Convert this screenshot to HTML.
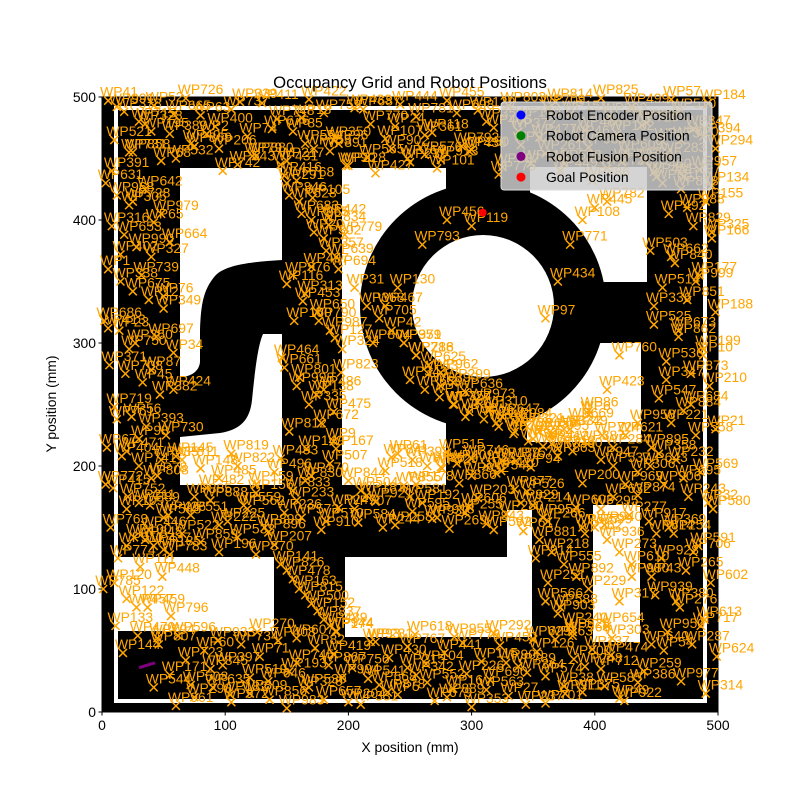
<!DOCTYPE html>
<html><head><meta charset="utf-8">
<style>
html,body{margin:0;padding:0;background:#fff;}
svg{display:block;font-family:"Liberation Sans","DejaVu Sans",sans-serif;}
</style></head>
<body>
<svg id="chart" width="800" height="800" viewBox="0 0 800 800" xmlns="http://www.w3.org/2000/svg">
  <rect x="0" y="0" width="800" height="800" fill="#fff"/>
  <g id="grid">
    <rect x="102" y="97" width="616" height="615" fill="#000"/>
    <rect x="116" y="108" width="589" height="593" fill="none" stroke="#fff" stroke-width="4"/>
    <rect x="180" y="168" width="102" height="317" fill="#fff"/>
    <path d="M282 260 C250 262 225 265 215 276 C203 290 201 305 200 330 L200 362 C199 372 190 377 180 377 L180 437 L220 433 C240 430 250 420 252 400 C255 370 258 345 263 334 L282 334 Z" fill="#000"/>
    <rect x="342" y="168" width="104" height="317" fill="#fff"/>
    <rect x="530" y="167" width="117" height="115" fill="#fff"/>
    <rect x="527" y="343" width="114" height="99" fill="#fff"/>
    <circle cx="483" cy="306" r="123" fill="#000"/>
    <circle cx="483" cy="306" r="71" fill="#fff"/>
    <rect x="116" y="557" width="158" height="74" fill="#fff"/>
    <rect x="345" y="557" width="187" height="80" fill="#fff"/>
    <rect x="507" y="510" width="25" height="50" fill="#fff"/>
    <rect x="593" y="505" width="47" height="137" fill="#fff"/>
  </g>
  <g id="axes"></g>
  <g id="marks"></g>
  <text x="410" y="88" text-anchor="middle" font-size="16.7" fill="#000">Occupancy Grid and Robot Positions</text>
  <text x="410" y="752" text-anchor="middle" font-size="13.9" fill="#000">X position (mm)</text>
  <text x="56" y="404" text-anchor="middle" font-size="13.9" fill="#000" transform="rotate(-90 56 404)">Y position (mm)</text>
  <g id="legend">
    <rect x="501" y="102" width="211" height="88" rx="3" fill="#ccc" fill-opacity="0.85" stroke="#ddd"/>
  </g>
</svg>
<script>
const xTicks = [0, 100, 200, 300, 400, 500];
const yTicks = [0, 100, 200, 300, 400, 500];
const wpX = [5,18,30,42,55,68,80,92,105,118,130,142,155,168,180,192,205,218,230,242,255,268,280,292,305,318,330,342,355,368,380,392,405,418,430,442,455,468,480,492,
10,25,40,60,75,95,110,125,150,165,185,200,215,235,250,262,275,300,325,340,360,375,395,410,425,440,460,470,485,498,
3,12,22,35,48,8,18,28,40,55,5,15,25,38,50,2,14,27,44,58,6,19,33,47,10,24,36,52,4,16,30,45,9,21,39,54,7,26,42,13,31,49,1,20,37,56,11,29,46,17,
450,470,490,460,480,495,445,465,485,455,475,498,448,468,488,458,478,493,452,472,462,482,446,466,486,456,476,496,444,464,484,454,474,494,449,469,489,459,479,499,
60,75,90,105,120,135,150,165,180,195,210,225,240,255,270,285,300,315,330,345,360,375,390,405,420,435,
68,83,98,113,128,143,158,173,188,203,218,233,248,263,278,293,308,323,338,353,368,383,398,413,
65,80,95,110,125,140,155,170,185,200,215,230,245,260,275,290,305,320,335,350,72,88,102,118,132,148,162,178,192,208,222,238,252,268,282,298,312,328,342,358,
150,160,170,180,190,155,165,175,185,195,148,158,168,178,188,152,162,172,182,192,
205,215,225,235,245,255,265,275,285,295,320,335,350,365,380,395,410,420,360,370,380,390,400,410,300,280,260,240,230,220,
145,155,165,175,185,150,160,170,180,190,20,35,50,65,80,95,110,125,140,42,
355,365,375,385,395,360,370,380,390,352,362,372,382,392,400,410,420,430,405,415,425,435,405,415,425,435,445,430,420,410,
12,35,58,85,112,138,162,188,212,238,262,288,312,338,362,388,412,438,462,488,
22,48,72,98,122,148,172,198,222,248,272,298,322,348,372,398,422,448,472,495,
20,40,60,85,105,125,145,165,190,210,235,255,280,300,325,345,370,390,415,435,
30,50,75,95,115,135,158,182,205,228,250,272,295,318,340,362,385,408,428,450,
245,255,265,275,285,295,305,315,325,335,345,355,365,375,385,395,250,262,274,286,
298,310,322,334,346,358,370,382,394,406,240,252,264,276,288,300,312,324,336,348,
145,158,171,184,197,150,163,176,189,146,160,174,188,152,166,180,194,156,170,184,
55,72,88,104,120,136,152,168,184,200,216,232,248,264,280,296,312,328,344,360,376,392,408,424,440,
62,94,126,158,190,222,254,286,318,350,382,414,446,470,490,
455,475,495,462,482,448,468,488,458,478,498,452,472,492,460,480,446,466,486,456,
8,25,42,15,32,50,5,22,40,58,12,30,48,3,20,38,55,10,28,45];
const wpY = [497,488,480,493,470,499,485,476,490,468,495,482,472,498,487,462,491,478,466,494,484,471,497,460,489,475,493,481,467,496,486,473,499,470,492,479,464,488,474,495,
465,455,472,450,460,458,445,452,448,462,456,444,451,458,447,453,449,457,443,461,454,446,459,442,455,448,452,465,441,458,
430,420,412,425,405,395,388,378,370,382,360,350,342,335,328,318,310,300,305,292,282,275,268,258,248,240,232,225,215,208,200,192,182,175,168,160,150,142,135,125,118,110,100,92,85,78,70,62,55,48,
435,425,415,405,395,385,375,365,355,345,335,325,315,305,295,285,275,265,255,245,235,225,215,205,195,185,175,165,155,145,135,125,115,105,95,85,75,65,55,45,
5,12,20,8,15,25,3,18,10,28,6,22,14,30,9,19,4,26,13,32,7,21,16,35,11,24,
42,50,38,55,45,58,40,52,47,36,57,44,53,39,48,56,41,54,37,49,59,43,51,46,
205,198,190,200,185,195,180,192,202,188,176,196,184,170,199,186,174,194,181,168,160,172,155,165,150,162,158,148,166,154,171,152,163,157,149,167,153,161,147,158,
430,415,400,385,370,355,340,325,310,295,280,265,250,235,220,420,405,390,375,360,
345,330,320,310,300,290,275,265,250,240,235,228,222,218,230,245,262,290,320,350,380,400,410,415,395,400,380,345,330,300,
120,108,95,82,70,115,100,88,75,65,135,140,132,145,138,130,142,128,136,20,
140,130,120,110,100,90,80,70,150,125,105,85,65,145,150,140,130,120,205,215,225,235,165,175,185,195,200,110,90,70,
492,478,486,470,496,474,483,465,490,476,469,487,480,472,491,466,484,477,498,468,
455,448,462,440,452,436,458,444,438,450,442,456,437,446,440,432,447,439,435,428,
212,190,208,182,210,178,206,188,214,180,207,185,211,192,204,179,208,186,200,176,
170,158,175,152,168,146,172,155,165,150,175,158,162,148,170,155,166,152,160,145,
300,290,282,276,268,260,252,246,240,236,232,228,226,230,236,242,270,262,256,250,
244,238,232,226,220,216,214,212,218,225,210,205,200,198,202,206,200,196,204,199,
445,432,418,402,388,348,334,318,304,288,272,258,244,228,214,262,276,318,362,396,
30,22,35,14,28,10,33,20,38,8,27,16,36,24,12,31,18,40,6,29,15,37,21,9,33,
62,58,65,60,66,57,63,61,64,59,62,60,55,25,15,
430,410,390,370,350,330,310,290,270,250,230,210,190,170,150,130,110,90,70,50,
440,415,398,372,355,338,312,295,278,262,238,222,205,185,165,148,128,105,85,60];
const fusionX = [30, 43];
const fusionY = [36, 40];
const goalX = [309];
const goalY = [406];
const legendLabels = ["Robot Encoder Position", "Robot Camera Position", "Robot Fusion Position", "Goal Position"];
const legendColors = ["#0000ff", "#008000", "#800080", "#ff0000"];

const NS = "http://www.w3.org/2000/svg";
const X0 = 102, X1 = 718, Y0 = 712, Y1 = 97;
function sx(v){ return X0 + (v / 500) * (X1 - X0); }
function sy(v){ return Y0 - (v / 500) * (Y0 - Y1); }
function mk(tag, attrs, parent){
  const e = document.createElementNS(NS, tag);
  for (const k in attrs) e.setAttribute(k, attrs[k]);
  parent.appendChild(e);
  return e;
}
const axes = document.getElementById('axes');
const marks = document.getElementById('marks');
const legend = document.getElementById('legend');

const frame = mk('rect', {x: X0, y: Y1, width: X1 - X0, height: Y0 - Y1, fill: 'none', stroke: '#000', 'stroke-width': 1}, axes);


xTicks.forEach(t => {
  const tk = mk('line', {x1: sx(t), x2: sx(t), y1: Y0, y2: Y0 + 3.5, stroke: '#000'}, axes);
  
  
  const tl = mk('text', {x: sx(t), y: Y0 + 18, 'text-anchor': 'middle', 'font-size': 13.9, fill: '#000'}, axes);
  tl.textContent = t;
  
  
});
yTicks.forEach(t => {
  const tk = mk('line', {x1: X0 - 3.5, x2: X0, y1: sy(t), y2: sy(t), stroke: '#000'}, axes);
  
  
  const tl = mk('text', {x: X0 - 6, y: sy(t) + 5, 'text-anchor': 'end', 'font-size': 13.9, fill: '#000'}, axes);
  tl.textContent = t;
  
  
});

const n = Math.min(wpX.length, wpY.length);
for (let i = 0; i < n; i++){
  const px = sx(wpX[i]), py = sy(wpY[i]);
  const m = mk('path', {d: `M${px-4} ${py-4}L${px+4} ${py+4}M${px-4} ${py+4}L${px+4} ${py-4}`, stroke: '#ffa500', 'stroke-width': 1.5, fill: 'none'}, marks);
  
  
}
for (let i = 0; i < n; i++){
  const px = sx(wpX[i]), py = sy(wpY[i]);
  const t = mk('text', {x: px - 8, y: py - 4, 'font-size': 13.9, fill: '#ffa500'}, marks);
  t.textContent = 'WP' + ((i * 337 + 41) % 1000);
  
  
}
const fp = mk('polyline', {points: fusionX.map((v, i) => sx(v) + ',' + sy(fusionY[i])).join(' '), stroke: '#800080', 'stroke-width': 3, fill: 'none'}, marks);


goalX.forEach((v, i) => {
  const g = mk('circle', {cx: sx(v), cy: sy(goalY[i]), r: 4, fill: '#ff0000'}, marks);
  
  
});

legendLabels.forEach((lab, i) => {
  const yy = 115 + i * 20.7;
  const c = mk('circle', {cx: 521, cy: yy, r: 4.5, fill: legendColors[i]}, legend);
  
  
  const t = mk('text', {x: 546, y: yy + 5, 'font-size': 13.9, fill: '#000'}, legend);
  t.textContent = lab;
  
  
});
</script>
</body></html>
